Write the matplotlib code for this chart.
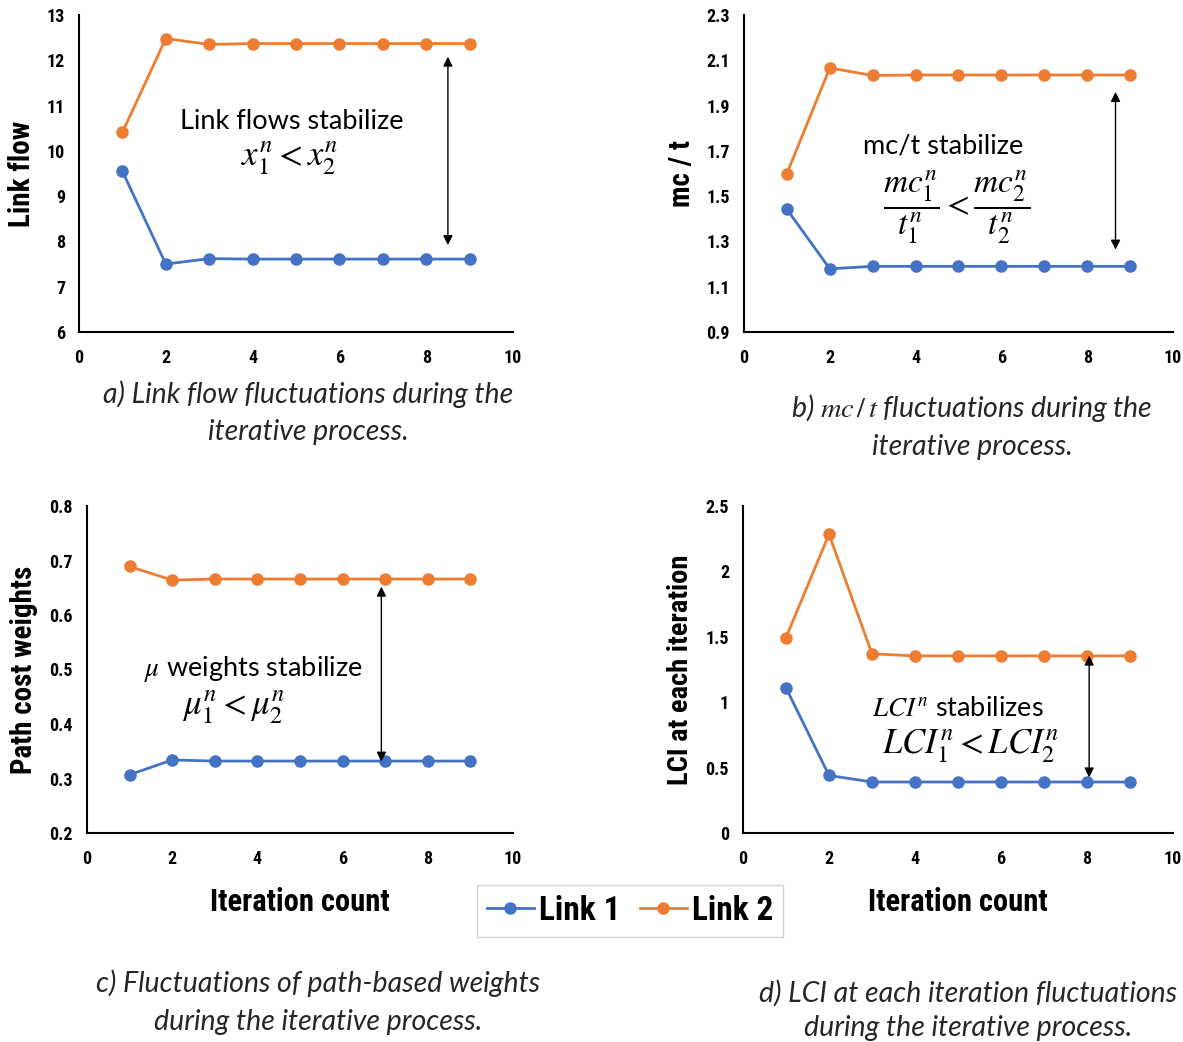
import numpy as np
import matplotlib
matplotlib.use("Agg")
import matplotlib.pyplot as plt
from matplotlib import font_manager

plt.rcParams['mathtext.fontset'] = 'stix'

# ---------------- data ----------------
iteraciones = [1, 2, 3, 4, 5, 6, 7, 8, 9]

flujo_link1 = [9.55, 7.50, 7.62, 7.61, 7.61, 7.61, 7.61, 7.61, 7.61]
flujo_link2 = [10.41, 12.48, 12.35, 12.37, 12.37, 12.37, 12.37, 12.37, 12.37]

mct_link1 = [1.442, 1.179, 1.19, 1.19, 1.19, 1.19, 1.19, 1.19, 1.19]
mct_link2 = [1.60, 2.066, 2.033, 2.035, 2.035, 2.035, 2.035, 2.035, 2.035]

peso_link1 = [0.307, 0.334, 0.332, 0.332, 0.332, 0.332, 0.332, 0.332, 0.332]
peso_link2 = [0.689, 0.664, 0.666, 0.666, 0.666, 0.666, 0.666, 0.666, 0.666]

lci_link1 = [1.11, 0.44, 0.39, 0.39, 0.39, 0.39, 0.39, 0.39, 0.39]
lci_link2 = [1.494, 2.284, 1.37, 1.354, 1.354, 1.354, 1.354, 1.354, 1.354]

azul = "#4472C4"
naranja = "#ED7D31"
texto = ['Lato', 'DejaVu Sans']

# fuente angosta si existe
nombres = {f.name for f in font_manager.fontManager.ttflist}
angosta = None
for n in ['Liberation Sans Narrow', 'DejaVu Sans Condensed', 'Roboto Condensed']:
    if n in nombres:
        angosta = n
        break
if angosta is None:
    narrow = dict(family=['DejaVu Sans'], stretch='condensed', weight='bold')
    esc = 0.85
else:
    narrow = dict(family=[angosta, 'DejaVu Sans'], stretch='condensed', weight='bold')
    esc = 1.0

fig = plt.figure(figsize=(11.83, 10.42), dpi=100)
W, H = 1183, 1042


def caja(x0, x1, ytop, ybot):
    return fig.add_axes([x0 / W, 1 - ybot / H, (x1 - x0) / W, (ybot - ytop) / H])


def panel(ax, y1, y2, ylim, yticks, ylabels, ylabel, tam_y, xlabel=None):
    l1, = ax.plot(iteraciones, y1, color=azul, marker="o", markersize=8, linewidth=2, label="Link 1")
    l2, = ax.plot(iteraciones, y2, color=naranja, marker="o", markersize=8, linewidth=2, label="Link 2")
    ax.set_xlim(0, 10)
    ax.set_ylim(*ylim)
    ax.set_xticks([0, 2, 4, 6, 8, 10])
    ax.set_yticks(yticks)
    ax.set_yticklabels(ylabels)
    for s in ["top", "right"]:
        ax.spines[s].set_visible(False)
    for s in ["left", "bottom"]:
        ax.spines[s].set_linewidth(1.5)
    ax.tick_params(axis="x", length=0, pad=12)
    ax.tick_params(axis="y", length=0, pad=10)
    for t in ax.get_xticklabels() + ax.get_yticklabels():
        t.set_fontproperties(font_manager.FontProperties(size=13 * esc, **narrow))
    ax.set_ylabel(ylabel, fontsize=tam_y * esc, labelpad=8, **narrow)
    if xlabel:
        ax.set_xlabel(xlabel, fontsize=22 * esc, labelpad=14, **narrow)
    return l1, l2


def flecha(ax, x, ya, yb):
    ax.annotate("", xy=(x, ya), xytext=(x, yb),
                arrowprops=dict(arrowstyle="<|-|>", color="black", lw=1, mutation_scale=14, shrinkA=0, shrinkB=0))


# a) link flow
ax_a = caja(79, 513, 15, 332)
panel(ax_a, flujo_link1, flujo_link2, (6, 13), range(6, 14), [str(v) for v in range(6, 14)], "Link flow", 21)
flecha(ax_a, 8.5, 12.08, 7.92)
ax_a.text(4.9, 10.64, "Link flows stabilize", family=texto, fontsize=19.5, ha="center", va="center")
ax_a.text(4.85, 9.84, r"$x_1^n < x_2^n$", fontsize=25, ha="center", va="center")

# b) mc/t
ax_b = caja(744, 1173, 15, 332)
bt = [0.9, 1.1, 1.3, 1.5, 1.7, 1.9, 2.1, 2.3]
panel(ax_b, mct_link1, mct_link2, (0.9, 2.3), bt, [f"{v:.1f}" for v in bt], "mc / t", 21)
flecha(ax_b, 8.66, 1.96, 1.264)
ax_b.text(4.65, 1.72, "mc/t stabilize", family=texto, fontsize=19.5, ha="center", va="center")
ax_b.text(4.95, 1.45, r"$\dfrac{mc_1^n}{t_1^n} < \dfrac{mc_2^n}{t_2^n}$", fontsize=24, ha="center", va="center")

# c) weights
ax_c = caja(87, 513, 506, 833)
ct = [0.2, 0.3, 0.4, 0.5, 0.6, 0.7, 0.8]
l1, l2 = panel(ax_c, peso_link1, peso_link2, (0.2, 0.8), ct, [f"{v:.1f}" for v in ct],
               "Path cost weights", 21, "Iteration count")
flecha(ax_c, 6.91, 0.652, 0.331)
ax_c.text(3.9, 0.5, r"$\mu$ weights stabilize", family=texto, fontsize=19.5, ha="center", va="center")
ax_c.text(3.45, 0.43, r"$\mu_1^n < \mu_2^n$", fontsize=25, ha="center", va="center")

# d) LCI
ax_d = caja(743, 1173, 506, 833)
dt = [0, 0.5, 1, 1.5, 2, 2.5]
panel(ax_d, lci_link1, lci_link2, (0, 2.5), dt, ["0", "0.5", "1", "1.5", "2", "2.5"],
      "LCI at each iteration", 20.5, "Iteration count")
flecha(ax_d, 8.05, 1.356, 0.425)
ax_d.text(5.0, 0.95, r"$LCI^n$ stabilizes", family=texto, fontsize=19.5, ha="center", va="center")
ax_d.text(5.3, 0.66, r"$LCI_1^n < LCI_2^n$", fontsize=25, ha="center", va="center")

# legend
leg = fig.legend([l1, l2], ["Link 1", "Link 2"], loc="center", bbox_to_anchor=(630 / W, 1 - 911 / H),
                 ncol=2, frameon=True, fancybox=False, handlelength=1.4, handletextpad=0.15,
                 columnspacing=0.6, borderpad=0.3, borderaxespad=0,
                 prop=font_manager.FontProperties(size=24 * esc, **narrow))
leg.get_frame().set_edgecolor("#c8c8c8")
leg.get_frame().set_linewidth(1)

# captions
cap = dict(family=texto, style="italic", fontsize=20.5, color="#262626", ha="center", va="center")
fig.text(308 / W, 1 - 394 / H, "a) Link flow fluctuations during the", **cap)
fig.text(308 / W, 1 - 432 / H, "iterative process.", **cap)
fig.text(972 / W, 1 - 408 / H, r"b) $mc\,/\,t$ fluctuations during the", **cap)
fig.text(972 / W, 1 - 447 / H, "iterative process.", **cap)
fig.text(318 / W, 1 - 983 / H, "c) Fluctuations of path-based weights", **cap)
fig.text(318 / W, 1 - 1022 / H, "during the iterative process.", **cap)
fig.text(968 / W, 1 - 993 / H, "d) LCI at each iteration fluctuations", **cap)
fig.text(968 / W, 1 - 1028 / H, "during the iterative process.", **cap)

fig.savefig("out.png", dpi=100)
